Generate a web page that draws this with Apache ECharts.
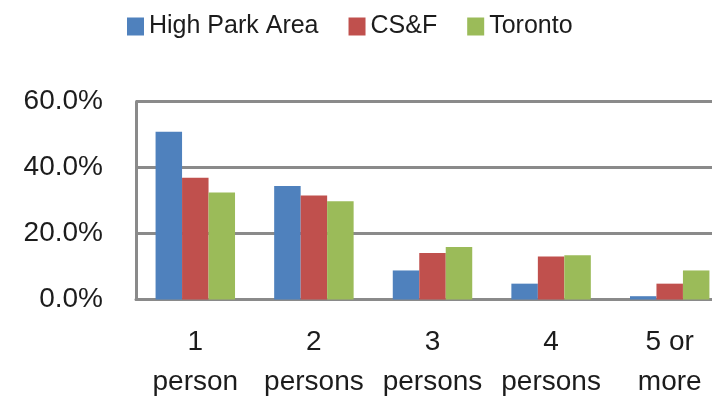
<!DOCTYPE html>
<html>
<head>
<meta charset="utf-8">
<style>
  html, body { margin: 0; padding: 0; background: #ffffff; }
  #chart { width: 712px; height: 405px; }
</style>
<script src="https://cdn.jsdelivr.net/npm/echarts@6/dist/echarts.min.js"></script>
</head>
<body>
<div id="chart"></div>
<script>
// Household size distribution (% of households)
const categories = ['1\nperson', '2\npersons', '3\npersons', '4\npersons', '5 or\nmore'];
const highParkArea = [50.8, 34.4, 8.8, 4.8, 1.0];
const csf = [36.9, 31.5, 14.1, 13.0, 4.8];
const toronto = [32.4, 29.8, 15.9, 13.4, 8.8];
const yTicks = { min: 0, max: 60, interval: 20 };

const FONT = "'Liberation Sans', sans-serif";
const TEXT = '#1c1c1c';
const GRID = '#8a8a8a';

const chart = echarts.init(document.getElementById('chart'), null, { renderer: 'canvas' });

function barSeries(name, data, color) {
  return {
    name: name,
    type: 'bar',
    data: data,
    barGap: '0%',
    barCategoryGap: '33%',
    itemStyle: { color: color },
    emphasis: { disabled: true }
  };
}

chart.setOption({
  animation: false,
  textStyle: { fontFamily: FONT },
  legend: {
    left: 122,
    top: 9,
    itemWidth: 17,
    itemHeight: 18,
    itemGap: 30,
    icon: 'rect',
    textStyle: { fontFamily: FONT, fontSize: 25, color: TEXT },
    data: ['High Park Area', 'CS&F', 'Toronto']
  },
  grid: {
    left: 136,
    top: 101.5,
    width: 593,
    height: 198,
    containLabel: false,
    outerBoundsMode: 'none',
    show: false
  },
  xAxis: {
    type: 'category',
    data: categories,
    axisLine: { show: true, lineStyle: { color: GRID, width: 3 } },
    axisTick: { show: false },
    axisLabel: {
      fontFamily: FONT,
      fontSize: 28,
      color: TEXT,
      lineHeight: 40,
      margin: 23,
      interval: 0
    }
  },
  yAxis: {
    type: 'value',
    min: yTicks.min,
    max: yTicks.max,
    interval: yTicks.interval,
    axisLine: { show: true, lineStyle: { color: GRID, width: 3 } },
    axisTick: { show: false },
    splitLine: { show: true, lineStyle: { color: GRID, width: 3 } },
    axisLabel: {
      fontFamily: FONT,
      fontSize: 28,
      color: TEXT,
      margin: 33,
      formatter: v => v.toFixed(1) + '%'
    }
  },
  series: [
    barSeries('High Park Area', highParkArea, '#4F81BD'),
    barSeries('CS&F', csf, '#C0504D'),
    barSeries('Toronto', toronto, '#9BBB59')
  ]
});
</script>
</body>
</html>
